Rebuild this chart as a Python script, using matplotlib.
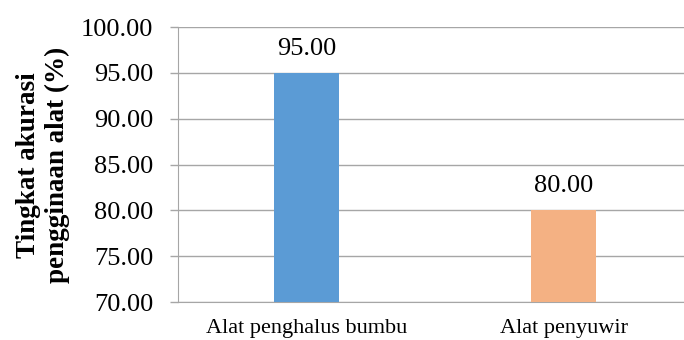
import matplotlib
matplotlib.use("Agg")
import matplotlib.pyplot as plt

categories = ["Alat penghalus bumbu", "Alat penyuwir"]
values = [95.00, 80.00]
colors = ["#5B9BD5", "#F4B183"]
yticks = [70, 75, 80, 85, 90, 95, 100]

plt.rcParams["font.family"] = ["Liberation Serif", "DejaVu Serif"]

fig = plt.figure(figsize=(6.84, 3.40), dpi=100)
ax = fig.add_axes([178 / 684, 1 - 302 / 340, (692 - 178) / 684, (302 - 27) / 340])

x = range(len(categories))
ax.bar(x, values, width=0.253, color=colors, zorder=3)
for xi, v in zip(x, values):
    ax.text(xi, v + 1.95, f"{v:.2f}", ha="center", va="baseline", fontsize=19, color="black")

ax.set_xlim(-0.5, 1.5)
ax.set_ylim(70, 100)
ax.set_yticks(yticks)
ax.set_yticklabels([f"{t:.2f}" for t in yticks], fontsize=19)
ax.set_xticks(list(x))
ax.set_xticklabels(categories, fontsize=16)
ax.tick_params(axis="x", length=0, pad=12)
ax.tick_params(axis="y", length=6, color="#A6A6A6", width=1, pad=12)

ax.yaxis.grid(True, color="#A6A6A6", linewidth=1, zorder=0)
for side in ["top", "right"]:
    ax.spines[side].set_visible(False)
ax.spines["left"].set_color("#A6A6A6")
ax.spines["bottom"].set_color("#A6A6A6")

fig.text(43 / 684, 1 - 165 / 340, "Tingkat akurasi\npengginaan alat (%)", rotation=90,
         ha="center", va="center", fontsize=19.5, fontweight="bold", linespacing=1.25,
         multialignment="center")

fig.savefig("out.png", dpi=100)
